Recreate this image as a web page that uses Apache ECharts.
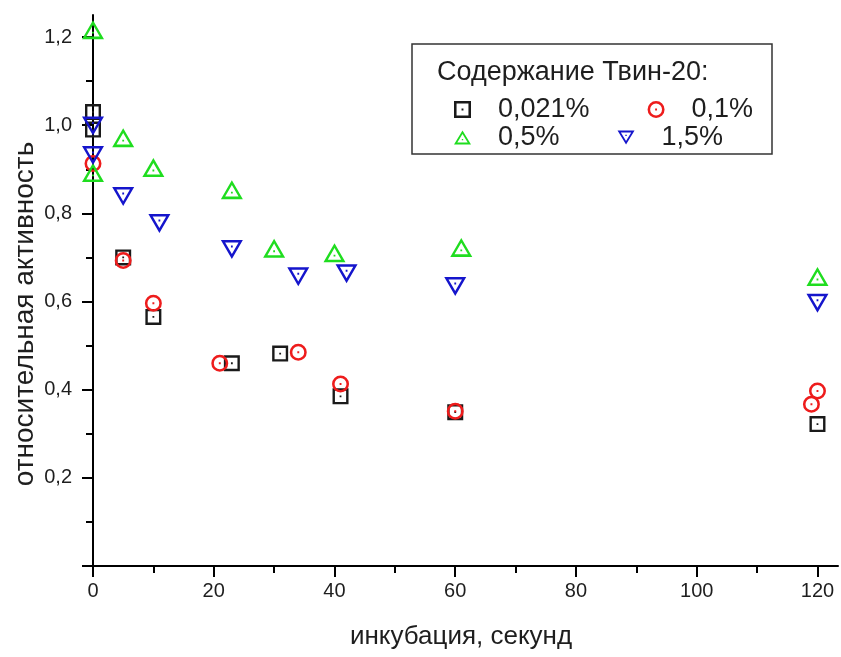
<!DOCTYPE html>
<html>
<head>
<meta charset="utf-8">
<script src="https://cdn.jsdelivr.net/npm/echarts@6/dist/echarts.min.js"></script>
<style>
  html, body { margin: 0; padding: 0; background: #fff; }
  #chart { width: 841px; height: 657px; }
</style>
</head>
<body>
<div id="chart"></div>
<script>
// Residual activity vs. incubation time for four Tween-20 concentrations
const seriesNames = ['0,021%', '0,1%', '0,5%', '1,5%'];

const time0021 = [0, 0, 5, 10, 23, 31, 41, 60, 120];
const act0021  = [1.03, 0.99, 0.70, 0.565, 0.46, 0.482, 0.385, 0.349, 0.322];

const time01 = [0, 5, 10, 21, 34, 41, 60, 119, 120];
const act01  = [0.913, 0.693, 0.596, 0.46, 0.485, 0.413, 0.351, 0.367, 0.397];

const time05 = [0, 0, 5, 10, 23, 30, 40, 61, 120];
const act05  = [1.21, 0.886, 0.965, 0.897, 0.847, 0.714, 0.704, 0.716, 0.65];

const time15 = [0, 0, 5, 11, 23, 34, 42, 60, 120];
const act15  = [1.005, 0.938, 0.845, 0.784, 0.725, 0.663, 0.67, 0.641, 0.603];

const xMajorTicks = [0, 20, 40, 60, 80, 100, 120];
const xMinorTicks = [10, 30, 50, 70, 90, 110];
const yMajorTicks = [0, 0.2, 0.4, 0.6, 0.8, 1.0, 1.2];
const yLabelTicks = [0.2, 0.4, 0.6, 0.8, 1.0, 1.2];
const yMinorTicks = [0.1, 0.3, 0.5, 0.7, 0.9, 1.1];

const xTitle = 'инкубация, секунд';
const yTitle = 'относительная активность';
const legendTitle = 'Содержание Твин-20:';

const colors = ['#1a1a1a', '#ee1c1c', '#1fdd1f', '#1515cc'];
const FONT = '"Liberation Sans", Arial, sans-serif';
const TXT = '#1e1e1e';

// Hollow markers with a centre dot, each drawn as one filled path
const SYM_SQUARE = 'path://M0 0H16V16H0Z M2.4 2.4V13.6H13.6V2.4Z M7.1 7.1H8.9V8.9H7.1Z';
const SYM_CIRCLE = 'path://M8 0A8 8 0 1 1 8 16A8 8 0 1 1 8 0Z M8 2.4A5.6 5.6 0 1 0 8 13.6A5.6 5.6 0 1 0 8 2.4Z M7.1 7.1H8.9V8.9H7.1Z';
const SYM_UP   = 'path://M11 0L22 18L0 18Z M11 4.6L4.28 15.6L17.72 15.6Z M10.1 10.9H11.9V12.7H10.1Z';
const SYM_DOWN = 'path://M0 0L22 0L11 18Z M4.28 2.4L11 13.4L17.72 2.4Z M10.1 5.3H11.9V7.1H10.1Z';

function pairs(xs, ys) { return xs.map((x, i) => [x, ys[i]]); }
const fmtComma = v => v.toFixed(1).replace('.', ',');

const X_MAX = 123.4;
const Y_MAX = 1.25;

const chart = echarts.init(document.getElementById('chart'), null, { renderer: 'canvas' });

function scatter(name, data, symbol, size, offset, color) {
  return {
    type: 'scatter', name, data, symbol, symbolSize: size, symbolOffset: offset,
    clip: false,
    itemStyle: { color, borderWidth: 0, opacity: 1 },
    emphasis: { disabled: true }
  };
}

const legendCommon = {
  orient: 'horizontal',
  padding: 0,
  itemWidth: 17,
  itemHeight: 17,
  itemGap: 58,
  selectedMode: false,
  textStyle: { fontSize: 27, fontFamily: FONT, color: TXT, width: 100, padding: [0, 0, 0, 22] }
};

chart.setOption({
  animation: false,
  backgroundColor: '#fff',
  grid: { left: 93, right: 3, top: 15, bottom: 91, containLabel: false },
  xAxis: [
    {
      type: 'value', min: 0, max: X_MAX,
      axisLine: { show: true, onZero: false, lineStyle: { color: '#000', width: 2 } },
      axisTick: { show: true, customValues: xMajorTicks, length: 11, lineStyle: { color: '#000', width: 2 } },
      axisLabel: { show: true, customValues: xMajorTicks, margin: 15, fontSize: 20, fontFamily: FONT, color: TXT },
      splitLine: { show: false }
    },
    {
      type: 'value', min: 0, max: X_MAX, position: 'bottom',
      axisLine: { show: false },
      axisTick: { show: true, customValues: xMinorTicks, length: 7, lineStyle: { color: '#000', width: 2 } },
      axisLabel: { show: false },
      splitLine: { show: false }
    }
  ],
  yAxis: [
    {
      type: 'value', min: 0, max: Y_MAX,
      axisLine: { show: true, onZero: false, lineStyle: { color: '#000', width: 2 } },
      axisTick: { show: true, customValues: yMajorTicks, length: 11, lineStyle: { color: '#000', width: 2 } },
      axisLabel: { show: true, customValues: yLabelTicks, margin: 21, fontSize: 20, fontFamily: FONT, color: TXT, formatter: fmtComma },
      splitLine: { show: false }
    },
    {
      type: 'value', min: 0, max: Y_MAX, position: 'left',
      axisLine: { show: false },
      axisTick: { show: true, customValues: yMinorTicks, length: 7, lineStyle: { color: '#000', width: 2 } },
      axisLabel: { show: false },
      splitLine: { show: false }
    }
  ],
  legend: [
    Object.assign({}, legendCommon, { left: 454, top: 96, data: [seriesNames[0], seriesNames[1]] }),
    Object.assign({}, legendCommon, { left: 454, top: 124, data: [seriesNames[2], seriesNames[3]] })
  ],
  graphic: [
    {
      type: 'rect', z: 0,
      shape: { x: 412, y: 44, width: 360, height: 110 },
      style: { fill: '#fff', stroke: '#333', lineWidth: 1.5 }
    },
    {
      type: 'text', z: 1, x: 437, y: 73,
      style: { text: legendTitle, fontSize: 27, fontFamily: FONT, fill: TXT, align: 'left', verticalAlign: 'middle' }
    },
    {
      type: 'text', x: 461, y: 637,
      style: { text: xTitle, fontSize: 26, fontFamily: FONT, fill: TXT, align: 'center', verticalAlign: 'middle' }
    },
    {
      type: 'text', x: 25, y: 314, rotation: Math.PI / 2,
      style: { text: yTitle, fontSize: 28, fontFamily: FONT, fill: TXT, align: 'center', verticalAlign: 'middle' }
    }
  ],
  series: [
    scatter(seriesNames[0], pairs(time0021, act0021), SYM_SQUARE, [16, 16], [0, 0], colors[0]),
    scatter(seriesNames[1], pairs(time01, act01), SYM_CIRCLE, [17, 17], [0, 0], colors[1]),
    scatter(seriesNames[2], pairs(time05, act05), SYM_UP, [22, 19], [0, -3], colors[2]),
    scatter(seriesNames[3], pairs(time15, act15), SYM_DOWN, [22, 19], [0, 3], colors[3])
  ]
});
</script>
</body>
</html>
